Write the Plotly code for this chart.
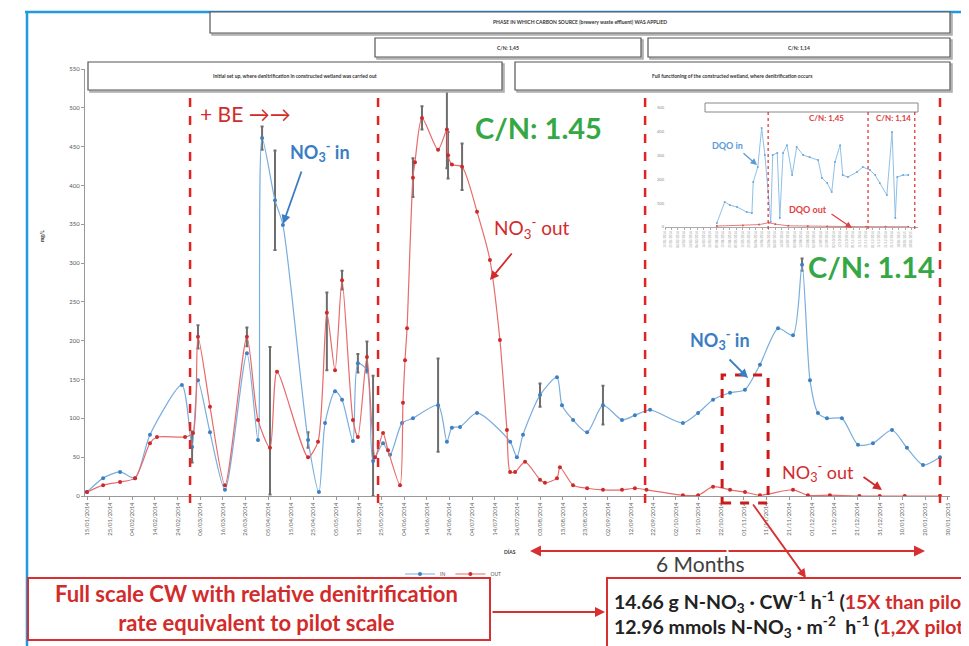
import plotly.graph_objects as go

# ---------------- data ----------------
tick_labels = ["15/01/2014", "25/01/2014", "04/02/2014", "14/02/2014", "24/02/2014", "06/03/2014",
               "16/03/2014", "26/03/2014", "05/04/2014", "15/04/2014", "25/04/2014", "05/05/2014",
               "15/05/2014", "25/05/2014", "04/06/2014", "14/06/2014", "24/06/2014", "04/07/2014",
               "14/07/2014", "24/07/2014", "03/08/2014", "13/08/2014", "23/08/2014", "02/09/2014",
               "12/09/2014", "22/09/2014", "02/10/2014", "12/10/2014", "22/10/2014", "01/11/2014",
               "11/11/2014", "21/11/2014", "01/12/2014", "11/12/2014", "21/12/2014", "31/12/2014",
               "10/01/2015", "20/01/2015", "30/01/2015"]
tick_step_days = 10
y_ticks = [0, 50, 100, 150, 200, 250, 300, 350, 400, 450, 500, 550]

no3_in_days = [0.0, 7.1, 14.6, 21.2, 27.8, 41.9, 46.4, 49.0, 54.3, 60.9, 70.6, 75.5, 77.3, 83.0,
               86.5, 97.6, 102.4, 105.1, 109.5, 112.6, 117.4, 119.6, 123.6, 126.3, 130.7, 133.8,
               139.1, 143.9, 155.0, 158.9, 161.1, 164.7, 172.2, 186.8, 189.8, 192.5, 200.0, 207.5,
               209.7, 214.6, 220.8, 227.8, 236.2, 241.9, 248.6, 263.1, 269.8, 276.4, 283.9, 290.5,
               297.1, 305.1, 311.7, 315.7, 319.2, 322.7, 326.7, 333.3, 340.4, 347.0, 355.4, 362.0,
               369.1, 376.6]
no3_in_vals = [5, 23, 31, 23, 79, 143, 63, 149, 82, 8, 184, 72, 461, 381,
               349, 72, 5, 94, 135, 124, 71, 171, 162, 45, 68, 53,
               94, 100, 117, 70, 88, 89, 107, 70, 50, 79, 130, 153,
               117, 98, 82, 117, 98, 104, 111, 94, 107, 124, 133, 137,
               169, 216, 207, 298, 149, 107, 100, 100, 66, 68, 85, 62,
               40, 50]

no3_out_days = [0.0, 7.1, 14.6, 21.2, 27.8, 30.9, 43.3, 46.8, 49.0, 54.3, 60.9, 70.6, 75.5, 80.8,
                83.9, 97.6, 102.0, 105.9, 109.5, 112.6, 117.4, 119.6, 123.6, 127.2, 130.7, 132.9,
                138.2, 139.5, 140.4, 141.3, 143.9, 144.8, 147.9, 155.0, 158.9, 159.4, 161.1, 165.6,
                172.2, 177.9, 182.3, 185.4, 186.8, 189.0, 193.4, 200.0, 202.2, 207.5, 208.8, 214.6,
                220.8, 227.8, 236.2, 241.9, 247.0, 263.1, 269.8, 276.4, 283.9, 290.5, 297.1, 311.7,
                318.3, 328.0, 341.0, 350.0, 361.0, 376.6]
no3_out_vals = [5, 14, 18, 23, 68, 76, 76, 81, 205, 115, 14, 205, 98, 62,
                160, 50, 70, 236, 162, 278, 98, 76, 179, 50, 81, 59,
                14, 120, 175, 216, 410, 430, 487, 446, 472, 439, 427, 424,
                366, 304, 201, 85, 31, 31, 44, 21, 17, 23, 37, 14,
                10, 8, 8, 10, 8, 1, 1, 12, 8, 5, 1, 8,
                1, 1, 0, 0, 0, 0]

# standard deviations (grey error bars)
err_days = [46.4, 49.0, 70.6, 77.3, 80.8, 83.0, 97.6, 105.9, 112.6, 119.6, 123.6, 126.3,
            143.9, 147.9, 155.0, 158.9, 159.4, 165.6, 200.0, 227.8, 315.7]
err_vals = [63, 205, 205, 461, 62, 381, 72, 236, 278, 171, 179, 45,
            410, 487, 117, 472, 439, 424, 130, 117, 298]
err_plus = [20, 15, 12, 15, 130, 64, 10, 26, 12, 12, 20, 110,
            25, 15, 60, 50, 30, 30, 15, 25, 8]
err_minus = [20, 15, 12, 15, 60, 64, 10, 74, 12, 12, 20, 45,
             25, 15, 60, 50, 30, 30, 15, 25, 8]

phase_days = [45.5, 128.5, 246.4, 376.6]
focus_days = [280.4, 300.7]

# inset (DQO)
inset_in_x = [8.0, 9.2, 10.0, 11.1, 12.6, 13.4, 13.6, 14.3, 14.9, 15.4, 16.3, 16.6, 17.3, 17.7,
              18.2, 18.8, 19.6, 20.3, 21.3, 22.3, 23.6, 24.2, 25.0, 25.7, 26.2, 27.0, 27.4, 28.2,
              29.6, 30.5, 31.6, 32.4, 33.1, 34.2, 35.0, 35.5, 35.8, 36.7, 37.5]
inset_in_v = [17, 105, 92, 84, 63, 59, 189, 252, 416, 302, 21, 302, 311, 38,
              311, 344, 218, 336, 302, 294, 281, 206, 185, 147, 273, 344, 218, 210,
              231, 252, 239, 218, 185, 134, 399, 38, 210, 218, 218]
inset_out_x = [8, 12, 14.5, 16, 17, 19, 22, 25, 28, 31, 34, 37.5]
inset_out_v = [4, 6, 10, 18, 12, 5, 3, 2, 2, 1, 1, 1]
inset_phase_x = [15.9, 31.3, 38.5]
inset_y_ticks = [0, 100, 200, 300, 400, 500]

# ---------------- layout helpers ----------------
# page body has an 8px margin: the figure starts at screen (8, 8)
OFF = 8
SW, SH = 969, 646
W, H = SW - OFF, SH - OFF
PL, PR, PT, PB = 85, 950, 69, 496      # plot area in screen pixels
PW, PH = PR - PL, PB - PT


def fx(px):
    return (px - PL) / PW


def fy(py):
    return (PB - py) / PH


FONT = "Lato, 'Open Sans', sans-serif"
RED = "#d22b2b"
BLUE = "#3b7dc4"
GREEN = "#35a845"

fig = go.Figure()

fig.add_trace(go.Scatter(
    x=err_days, y=err_vals, mode="markers", marker=dict(size=1, opacity=0),
    error_y=dict(type="data", symmetric=False, array=err_plus, arrayminus=err_minus,
                 color="#6e6e6e", thickness=2, width=1.5),
    showlegend=False, hoverinfo="skip"))

fig.add_trace(go.Scatter(
    x=no3_in_days, y=no3_in_vals, name="IN", mode="lines+markers",
    line=dict(color="#79aede", width=1.2, shape="spline", smoothing=0.7),
    marker=dict(size=4, color="#3f7fc0")))
fig.add_trace(go.Scatter(
    x=no3_out_days, y=no3_out_vals, name="OUT", mode="lines+markers",
    line=dict(color="#e86a6a", width=1.2, shape="spline", smoothing=0.7),
    marker=dict(size=4, color="#cc2b2b")))

# inset traces
fig.add_trace(go.Scatter(
    x=inset_in_x, y=inset_in_v, xaxis="x2", yaxis="y2", mode="lines+markers",
    line=dict(color="#8fc0e8", width=1), marker=dict(size=2, color="#6aa6da"),
    showlegend=False, hoverinfo="skip"))
fig.add_trace(go.Scatter(
    x=inset_out_x, y=inset_out_v, xaxis="x2", yaxis="y2", mode="lines+markers",
    line=dict(color="#e87a7a", width=1), marker=dict(size=2, color="#e05050"),
    showlegend=False, hoverinfo="skip"))

x_min = (PL - 87) / 2.265
x_max = (PR - 87) / 2.265
tickvals = [i * tick_step_days for i in range(len(tick_labels))]

fig.update_layout(
    width=W, height=H,
    margin=dict(l=PL - OFF, r=SW - PR, t=PT - OFF, b=SH - PB),
    paper_bgcolor="white", plot_bgcolor="white",
    font=dict(family=FONT),
    xaxis=dict(range=[x_min, x_max], tickvals=tickvals, ticktext=tick_labels,
               tickangle=-90, tickfont=dict(size=6, color="#666"),
               showgrid=False, zeroline=False, showline=True, linecolor="#999",
               ticks="outside", ticklen=3, tickcolor="#999"),
    yaxis=dict(range=[0, 550], tickvals=y_ticks, tickfont=dict(size=6, color="#555"),
               showgrid=False, zeroline=False, showline=True, linecolor="#999",
               ticks="outside", ticklen=3, tickcolor="#999"),
    xaxis2=dict(domain=[fx(665), fx(918)], anchor="y2", range=[0, 39],
                tickvals=list(range(len(tick_labels))), ticktext=tick_labels,
                tickangle=-90, tickfont=dict(size=3, color="#999"),
                showgrid=False, zeroline=False, showline=True, linecolor="#aaa",
                ticks="outside", ticklen=2, tickcolor="#aaa"),
    yaxis2=dict(domain=[fy(227), fy(108)], anchor="x2", range=[0, 500],
                tickvals=inset_y_ticks, tickfont=dict(size=4, color="#888"),
                showgrid=False, zeroline=False, showline=False),
    legend=dict(x=fx(400), y=fy(574), xanchor="left", yanchor="middle",
                orientation="h", font=dict(size=5, color="#555"),
                bgcolor="rgba(0,0,0,0)", itemwidth=30),
)

shapes = []
# blue slide border
shapes.append(dict(type="line", xref="paper", yref="paper", x0=fx(25), x1=fx(975),
                   y0=fy(12), y1=fy(12), line=dict(color="#1e9be0", width=2.5)))
shapes.append(dict(type="line", xref="paper", yref="paper", x0=fx(27), x1=fx(27),
                   y0=fy(12), y1=fy(650), line=dict(color="#1e9be0", width=2.5)))

# header boxes
boxes = [
    (210, 12, 950, 33, "PHASE IN WHICH CARBON SOURCE (brewery waste effluent) WAS APPLIED"),
    (375, 38, 641, 57, "C/N: 1,45"),
    (648, 38, 950, 57, "C/N: 1,14"),
    (88, 62, 502, 90, "Initial set up, where denitrification in constructed wetland was carried out"),
    (515, 62, 950, 90, "Full functioning of the constructed wetland, where denitrification occurs"),
]
for x0, y0, x1, y1, txt in boxes:
    shapes.append(dict(type="rect", xref="paper", yref="paper", x0=fx(x0 + 2), x1=fx(x1 + 2),
                       y0=fy(y0 + 2), y1=fy(y1 + 2), line=dict(color="#aaa", width=1.5),
                       fillcolor="#cfcfcf"))
    shapes.append(dict(type="rect", xref="paper", yref="paper", x0=fx(x0), x1=fx(x1),
                       y0=fy(y0), y1=fy(y1), line=dict(color="#555", width=1.2),
                       fillcolor="white"))

# phase dashed lines
for d in phase_days:
    shapes.append(dict(type="line", xref="x", yref="paper", x0=d, x1=d,
                       y0=fy(503), y1=fy(94), line=dict(color="#e02424", width=2.5, dash="dash")))

# focus box
shapes.append(dict(type="rect", xref="x", yref="paper", x0=focus_days[0], x1=focus_days[1],
                   y0=fy(503), y1=fy(375), line=dict(color="#cc1a1a", width=3, dash="dash")))

# inset header box and dotted lines
shapes.append(dict(type="rect", xref="paper", yref="paper", x0=fx(705), x1=fx(918),
                   y0=fy(112), y1=fy(103), line=dict(color="#888", width=1), fillcolor="white"))
for u in inset_phase_x:
    shapes.append(dict(type="line", xref="x2", yref="paper", x0=u, x1=u,
                       y0=fy(229), y1=fy(112), line=dict(color="#e03a3a", width=1.3, dash="dot")))

# bottom boxes
shapes.append(dict(type="rect", xref="paper", yref="paper", x0=fx(28), x1=fx(490),
                   y0=fy(640), y1=fy(578), line=dict(color="#d83030", width=2), fillcolor="white"))
shapes.append(dict(type="rect", xref="paper", yref="paper", x0=fx(607), x1=fx(985),
                   y0=fy(655), y1=fy(578), line=dict(color="#d83030", width=2), fillcolor="white"))
fig.update_layout(shapes=shapes)

ann = []


def text(px, py, t, size, color, bold=False, xanchor="center", angle=0, align="center"):
    ann.append(dict(xref="paper", yref="paper", x=fx(px), y=fy(py), text=(f"<b>{t}</b>" if bold else t),
                    showarrow=False, xanchor=xanchor, yanchor="middle", textangle=angle, align=align,
                    font=dict(size=size, color=color, family=FONT)))


def arrow(hx, hy, tx, ty, color, width=1.8, head=2, size=1.0):
    ann.append(dict(xref="paper", yref="paper", x=fx(hx), y=fy(hy), ax=tx - hx, ay=ty - hy,
                    text="", showarrow=True, arrowhead=head, arrowsize=size, arrowwidth=width,
                    arrowcolor=color))


for x0, y0, x1, y1, txt in boxes:
    text((x0 + x1) / 2, (y0 + y1) / 2, txt, 5, "#333", bold=True)

text(245, 113, "+ BE →→", 21, RED)
text(320, 152, "NO<sub>3</sub><sup>-</sup> in", 18, BLUE, bold=True)
arrow(283, 224, 302, 170, BLUE)
text(538, 127, "C/N: 1.45", 29, GREEN, bold=True)
text(532, 228, "NO<sub>3</sub><sup>-</sup> out", 19, RED)
arrow(490, 280, 513, 252, RED)
text(871, 266, "C/N: 1.14", 29, GREEN, bold=True)
text(720, 340, "NO<sub>3</sub><sup>-</sup> in", 18, BLUE, bold=True)
arrow(748, 378, 728, 358, BLUE)
text(818, 472, "NO<sub>3</sub><sup>-</sup> out", 18, RED)
arrow(882, 490, 862, 476, RED)

# inset labels
text(727, 145, "DQO in", 9, "#5a9ad6", bold=True)
arrow(757, 165, 742, 152, "#5a9ad6", width=1.3)
text(826, 118, "C/N: 1,45", 8, "#e04040", bold=True)
text(893, 118, "C/N: 1,14", 8, "#e04040", bold=True)
text(808, 209, "DQO out", 9, "#e04040", bold=True)
arrow(852, 228, 830, 213, "#e04040", width=1.3)

# axis titles
text(42, 236, "mg/L", 5, "#333", bold=True, angle=-90)
text(510, 551, "DÍAS", 5, "#333", bold=True)

# 6 months
arrow(530, 551, 728, 551, "#d83030", width=2.2)
arrow(925, 551, 727, 551, "#d83030", width=2.2)
text(700, 563, "6 Months", 21, "#404040")

# explanatory boxes
text(256, 608, "Full scale CW with relative denitrification<br>rate equivalent to pilot scale", 22, RED, bold=True)
arrow(605, 612, 491, 612, "#d83030", width=2)
arrow(806, 578, 752, 503, "#d83030", width=1.8)
text(612, 602, "14.66 g N-NO<sub>3</sub> · CW<sup>-1</sup> h<sup>-1</sup> (<span style='color:#d22b2b'>15X than pilot</span>",
     19.5, "#222", bold=True, xanchor="left")
text(612, 627, "12.96 mmols N-NO<sub>3</sub> · m<sup>-2</sup>  h<sup>-1</sup> (<span style='color:#d22b2b'>1,2X pilot</span>",
     19.5, "#222", bold=True, xanchor="left")

fig.update_layout(annotations=ann)

fig.write_html("out.html")
